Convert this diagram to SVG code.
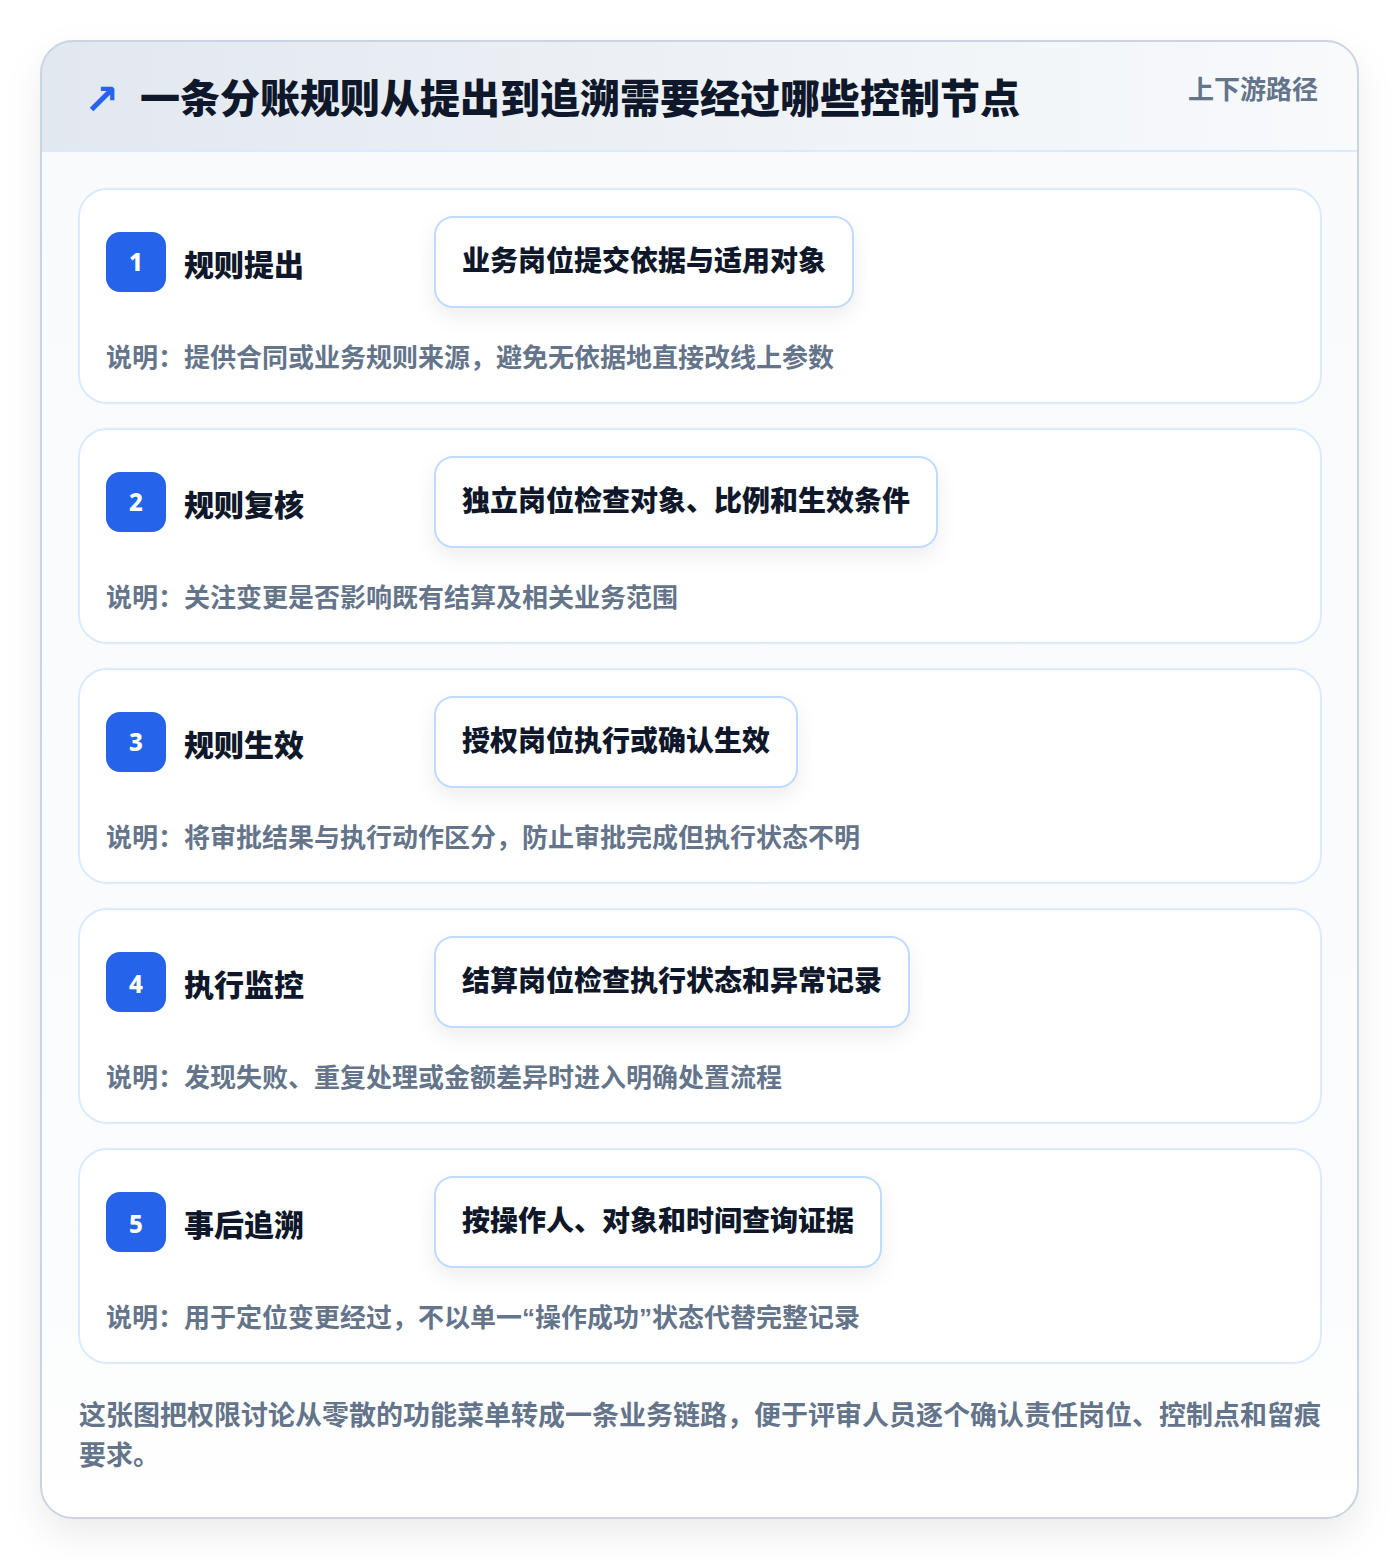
<svg xmlns="http://www.w3.org/2000/svg" width="1400" height="1560" viewBox="0 0 1400 1560">
<defs>
<linearGradient id="hdr" x1="0" y1="0" x2="1" y2="0">
<stop offset="0" stop-color="#e2e8f0"/>
<stop offset="1" stop-color="#f8fafc"/>
</linearGradient>
<linearGradient id="body" x1="0" y1="0" x2="0" y2="1">
<stop offset="0" stop-color="#f8fafc"/>
<stop offset="0.85" stop-color="#fbfcfd"/>
<stop offset="1" stop-color="#ffffff"/>
</linearGradient>
<filter id="cardShadow" x="-10%" y="-10%" width="120%" height="120%">
<feDropShadow dx="0" dy="16" stdDeviation="18" flood-color="#0f172a" flood-opacity="0.08"/>
</filter>
<filter id="pillShadow" x="-20%" y="-40%" width="140%" height="200%">
<feDropShadow dx="0" dy="8" stdDeviation="10" flood-color="#0f172a" flood-opacity="0.07"/>
</filter>
<clipPath id="outerClip"><rect x="41" y="41" width="1317" height="1477" rx="32"/></clipPath>
</defs>
<style>
text{font-family:"Liberation Sans","Noto Sans CJK SC",sans-serif;font-weight:700}
.title{font-size:40px;fill:#0f172a;font-weight:900}
.tag{font-size:26px;fill:#64748b}
.step{fill:#ffffff;stroke:#dbeafe;stroke-width:2}
.badge{fill:#2563eb}
.num{font-size:24px;fill:#ffffff;font-family:"Noto Sans","Liberation Sans",sans-serif;font-weight:800}
.stitle{font-size:30px;fill:#0f172a;font-weight:900}
.pill{fill:#ffffff;stroke:#bfdbfe;stroke-width:2}
.ptext{font-size:28px;fill:#0f172a;font-weight:900}
.desc{font-size:26px;fill:#64748b}
.foot{font-size:27px;fill:#64748b}
</style>
<rect x="0" y="0" width="1400" height="1560" fill="#ffffff"/>
<g id="frame">
<rect x="41" y="41" width="1317" height="1477" rx="32" fill="url(#body)" filter="url(#cardShadow)"/>
<g clip-path="url(#outerClip)">
<rect x="41" y="41" width="1317" height="110" fill="url(#hdr)"/>
</g>
<line x1="41" y1="151" x2="1358" y2="151" stroke="#dbeafe" stroke-width="2"/>
<rect x="41" y="41" width="1317" height="1477" rx="32" fill="none" stroke="#cbd5e1" stroke-width="2"/>
</g>
<g id="header">
<text x="84" y="114" style="font-family:'DejaVu Sans',sans-serif;font-weight:700;font-size:42px;fill:#2563eb">↗</text>
<text class="title" x="140" y="113">一条分账规则从提出到追溯需要经过哪些控制节点</text>
<text class="tag" x="1318" y="99" text-anchor="end">上下游路径</text>
</g>
<g id="step1">
<rect class="step" x="79" y="189" width="1242" height="214" rx="28"/>
<rect class="badge" x="106" y="232" width="60" height="60" rx="14"/>
<text class="num" x="136" y="271" text-anchor="middle">1</text>
<text class="stitle" x="184" y="276">规则提出</text>
<rect class="pill" x="435" y="217" width="418" height="90" rx="18" filter="url(#pillShadow)"/>
<text class="ptext" x="462" y="271">业务岗位提交依据与适用对象</text>
<text class="desc" x="106" y="367">说明：提供合同或业务规则来源，避免无依据地直接改线上参数</text>
</g>
<g id="step2">
<rect class="step" x="79" y="429" width="1242" height="214" rx="28"/>
<rect class="badge" x="106" y="472" width="60" height="60" rx="14"/>
<text class="num" x="136" y="511" text-anchor="middle">2</text>
<text class="stitle" x="184" y="516">规则复核</text>
<rect class="pill" x="435" y="457" width="502" height="90" rx="18" filter="url(#pillShadow)"/>
<text class="ptext" x="462" y="511">独立岗位检查对象、比例和生效条件</text>
<text class="desc" x="106" y="607">说明：关注变更是否影响既有结算及相关业务范围</text>
</g>
<g id="step3">
<rect class="step" x="79" y="669" width="1242" height="214" rx="28"/>
<rect class="badge" x="106" y="712" width="60" height="60" rx="14"/>
<text class="num" x="136" y="751" text-anchor="middle">3</text>
<text class="stitle" x="184" y="756">规则生效</text>
<rect class="pill" x="435" y="697" width="362" height="90" rx="18" filter="url(#pillShadow)"/>
<text class="ptext" x="462" y="751">授权岗位执行或确认生效</text>
<text class="desc" x="106" y="847">说明：将审批结果与执行动作区分，防止审批完成但执行状态不明</text>
</g>
<g id="step4">
<rect class="step" x="79" y="909" width="1242" height="214" rx="28"/>
<rect class="badge" x="106" y="952" width="60" height="60" rx="14"/>
<text class="num" x="136" y="993" text-anchor="middle">4</text>
<text class="stitle" x="184" y="996">执行监控</text>
<rect class="pill" x="435" y="937" width="474" height="90" rx="18" filter="url(#pillShadow)"/>
<text class="ptext" x="462" y="991">结算岗位检查执行状态和异常记录</text>
<text class="desc" x="106" y="1087">说明：发现失败、重复处理或金额差异时进入明确处置流程</text>
</g>
<g id="step5">
<rect class="step" x="79" y="1149" width="1242" height="214" rx="28"/>
<rect class="badge" x="106" y="1192" width="60" height="60" rx="14"/>
<text class="num" x="136" y="1233" text-anchor="middle">5</text>
<text class="stitle" x="184" y="1236">事后追溯</text>
<rect class="pill" x="435" y="1177" width="446" height="90" rx="18" filter="url(#pillShadow)"/>
<text class="ptext" x="462" y="1231">按操作人、对象和时间查询证据</text>
<text class="desc" x="106" y="1327">说明：用于定位变更经过，不以单一“操作成功”状态代替完整记录</text>
</g>
<g id="connectors"></g>
<g id="footer">
<text class="foot" x="79" y="1425">这张图把权限讨论从零散的功能菜单转成一条业务链路，便于评审人员逐个确认责任岗位、控制点和留痕</text>
<text class="foot" x="79" y="1465">要求。</text>
</g>
</svg>
